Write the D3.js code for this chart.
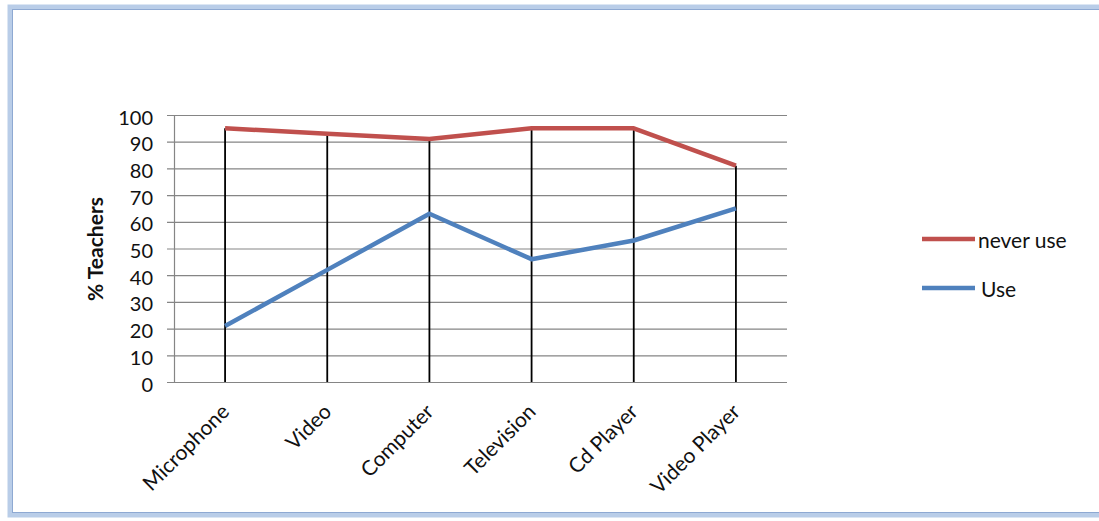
<!DOCTYPE html>
<html><head><meta charset="utf-8">
<script src="https://cdnjs.cloudflare.com/ajax/libs/d3/7.8.5/d3.min.js"></script>
<style>
html,body{margin:0;padding:0;background:#fff;}
svg{display:block;font-family:Lato, "Liberation Sans", sans-serif;}
</style></head>
<body>
<svg id="c" width="1099" height="521"></svg>
<script>
const categories = ["Microphone","Video","Computer","Television","Cd Player","Video Player"];
const neverUse = [95, 93, 91, 95, 95, 81];
const use = [21, 42, 63, 46, 53, 65];
const yTicks = [0,10,20,30,40,50,60,70,80,90,100];
const seriesNames = ["never use","Use"];
const seriesColors = ["#c0504d","#4f81bd"];

const svg = d3.select("#c");

// frame
svg.append("rect").attr("x",10).attr("y",7).attr("width",1110).attr("height",508)
  .attr("fill","none").attr("stroke","#b9cde8").attr("stroke-width",5);
svg.append("rect").attr("x",12.5).attr("y",9.5).attr("width",1110).attr("height",503)
  .attr("fill","none").attr("stroke","#8ea9d2").attr("stroke-width",1);

const x = d3.scalePoint().domain(categories).range([174, 787]).padding(0.5);
const y = d3.scaleLinear().domain([0,100]).range([382,115]);

// gridlines
svg.append("g").selectAll("line").data(yTicks).join("line")
  .attr("x1",167).attr("x2",787)
  .attr("y1",d=>y(d)+0.5).attr("y2",d=>y(d)+0.5)
  .attr("stroke","#858585").attr("stroke-width",1.2);

// y axis line
svg.append("line").attr("x1",174.5).attr("x2",174.5).attr("y1",y(100)).attr("y2",y(0))
  .attr("stroke","#858585").attr("stroke-width",1.2);

// y tick labels
const yAxis = d3.axisLeft(y).tickValues(yTicks).tickSize(0).tickPadding(0);
const gy = svg.append("g").attr("transform","translate(153,2)").call(yAxis);
gy.select(".domain").remove();
gy.selectAll("text").attr("font-size",20).attr("fill","#111").attr("font-family","Lato, sans-serif").attr("dy","0.35em");

// y title
svg.append("text").attr("transform","translate(103,249) rotate(-90)")
  .attr("text-anchor","middle").attr("font-size",21).attr("font-weight","bold")
  .attr("fill","#111").text("% Teachers");

// drop lines
svg.append("g").selectAll("line").data(categories).join("line")
  .attr("x1",d=>x(d)).attr("x2",d=>x(d))
  .attr("y1",(d,i)=>y(Math.max(neverUse[i],use[i])))
  .attr("y2",y(0))
  .attr("stroke","#000").attr("stroke-width",1.8);

// x labels
const gx = svg.append("g").attr("transform",`translate(0,${y(0)})`)
  .call(d3.axisBottom(x).tickSize(0).tickPadding(0));
gx.select(".domain").remove();
gx.selectAll("text")
  .attr("font-size",21).attr("fill","#111").attr("font-family","Lato, sans-serif")
  .attr("text-anchor","end").attr("dy",0).attr("y",0)
  .attr("transform","translate(5,31) rotate(-45)");

// lines
const line = d3.line().x((d,i)=>x(categories[i])).y(d=>y(d));
[neverUse,use].forEach((s,k)=>{
  svg.append("path").datum(s).attr("d",line).attr("fill","none")
    .attr("stroke",seriesColors[k]).attr("stroke-width",4.5).attr("stroke-linejoin","round");
});

// legend
const leg = svg.append("g");
seriesNames.forEach((n,k)=>{
  const ly = 239 + k*49;
  leg.append("line").attr("x1",922).attr("x2",975).attr("y1",ly).attr("y2",ly)
    .attr("stroke",seriesColors[k]).attr("stroke-width",4.5);
  leg.append("text").attr("x",978 + (k===1?3:0)).attr("y",ly+2).attr("dy","0.35em")
    .attr("font-size",21).attr("fill","#111").text(n);
});
</script>
</body></html>
